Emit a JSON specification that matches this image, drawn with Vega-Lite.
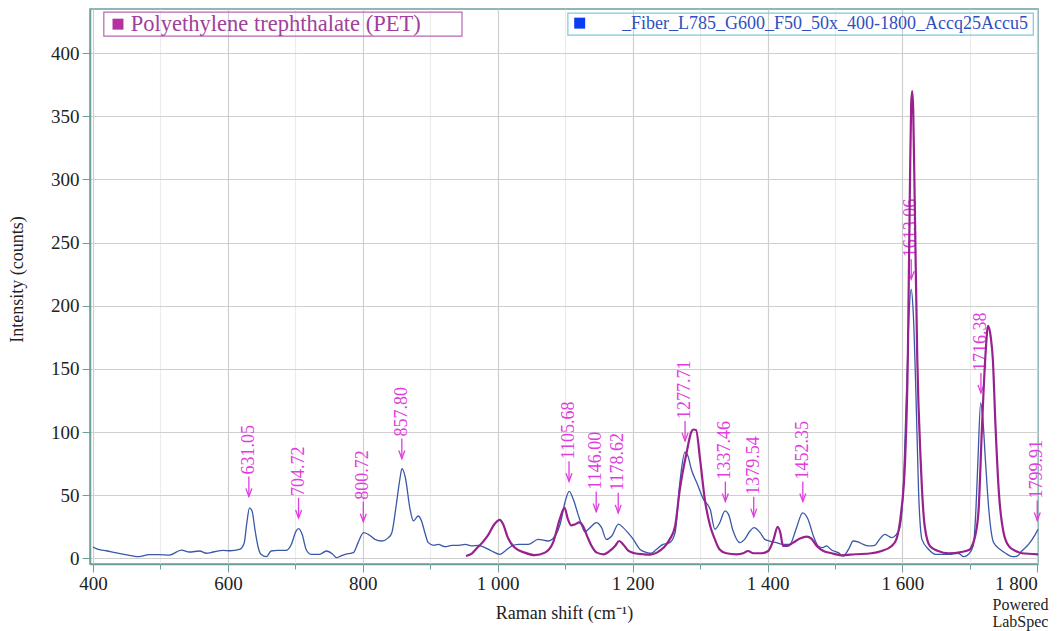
{
  "$schema": "https://vega.github.io/schema/vega-lite/v6.json",
  "width": 948,
  "height": 555,
  "autosize": {"type": "none"},
  "padding": {"left": 90, "top": 9, "right": 22, "bottom": 67},
  "background": "white",
  "config": {
    "font": "Liberation Serif",
    "view": {"stroke": "#6d9f9c", "strokeWidth": 1.5},
    "axis": {"labelFont": "Liberation Serif", "titleFont": "Liberation Serif"},
    "text": {"font": "Liberation Serif"}
  },
  "datasets": {
    "fiber": [
      {"shift":400,"intensity":9},{"shift":408,"intensity":7},{"shift":420,"intensity":6},{"shift":433,"intensity":4.5},{"shift":448,"intensity":3},{"shift":468,"intensity":1.3},{"shift":483,"intensity":3},{"shift":498,"intensity":3},{"shift":513,"intensity":2.6},{"shift":531,"intensity":6.5},{"shift":543,"intensity":5},{"shift":558,"intensity":5.8},{"shift":568,"intensity":4},{"shift":578,"intensity":5},{"shift":593,"intensity":6.3},{"shift":603,"intensity":6},{"shift":617,"intensity":7},{"shift":624,"intensity":12},{"shift":628,"intensity":28},{"shift":632,"intensity":40},{"shift":636,"intensity":37},{"shift":640,"intensity":23},{"shift":645,"intensity":8.4},{"shift":649,"intensity":3.2},{"shift":657,"intensity":1.3},{"shift":664,"intensity":5.8},{"shift":674,"intensity":6.3},{"shift":686,"intensity":6.3},{"shift":694,"intensity":11},{"shift":701,"intensity":21.6},{"shift":705,"intensity":23.5},{"shift":710,"intensity":19},{"shift":716,"intensity":7},{"shift":723,"intensity":3.2},{"shift":736,"intensity":3.2},{"shift":746,"intensity":5.8},{"shift":755,"intensity":3.5},{"shift":761,"intensity":0.5},{"shift":767,"intensity":1.8},{"shift":774,"intensity":3.2},{"shift":786,"intensity":4.5},{"shift":793,"intensity":12.4},{"shift":801,"intensity":20.3},{"shift":808,"intensity":19},{"shift":818,"intensity":15},{"shift":828,"intensity":13.7},{"shift":838,"intensity":16.4},{"shift":843,"intensity":20.3},{"shift":850,"intensity":44},{"shift":855,"intensity":63},{"shift":858,"intensity":71},{"shift":863,"intensity":64},{"shift":870,"intensity":39},{"shift":875,"intensity":29.6},{"shift":882,"intensity":33.5},{"shift":887,"intensity":29.6},{"shift":892,"intensity":20.3},{"shift":897,"intensity":12.4},{"shift":905,"intensity":10.3},{"shift":912,"intensity":11},{"shift":922,"intensity":9.2},{"shift":932,"intensity":10.3},{"shift":942,"intensity":10.3},{"shift":952,"intensity":11},{"shift":961,"intensity":9.8},{"shift":971,"intensity":10.3},{"shift":981,"intensity":8.5},{"shift":991,"intensity":5.8},{"shift":1003,"intensity":3.2},{"shift":1011,"intensity":5.8},{"shift":1021,"intensity":9.8},{"shift":1031,"intensity":11},{"shift":1045,"intensity":11},{"shift":1060,"intensity":15},{"shift":1075,"intensity":13.7},{"shift":1085,"intensity":17.7},{"shift":1093,"intensity":28},{"shift":1100,"intensity":45},{"shift":1106,"intensity":53},{"shift":1112,"intensity":46.7},{"shift":1119,"intensity":35},{"shift":1124,"intensity":27},{"shift":1129,"intensity":21},{"shift":1137,"intensity":24.3},{"shift":1146,"intensity":28.3},{"shift":1154,"intensity":24.3},{"shift":1161,"intensity":15},{"shift":1169,"intensity":17.7},{"shift":1179,"intensity":27},{"shift":1186,"intensity":24.3},{"shift":1193,"intensity":20.3},{"shift":1201,"intensity":15},{"shift":1211,"intensity":7},{"shift":1221,"intensity":4.5},{"shift":1228,"intensity":4},{"shift":1235,"intensity":7},{"shift":1245,"intensity":11},{"shift":1255,"intensity":12.4},{"shift":1263,"intensity":20.3},{"shift":1270,"intensity":60},{"shift":1277.5,"intensity":84},{"shift":1282,"intensity":81},{"shift":1287,"intensity":70.5},{"shift":1295,"intensity":60},{"shift":1305,"intensity":46.7},{"shift":1315,"intensity":38.8},{"shift":1322,"intensity":23},{"shift":1329,"intensity":28},{"shift":1337,"intensity":37.5},{"shift":1342,"intensity":35},{"shift":1349,"intensity":21.6},{"shift":1359,"intensity":12.4},{"shift":1366,"intensity":15},{"shift":1374,"intensity":21.6},{"shift":1380,"intensity":24.3},{"shift":1389,"intensity":20.3},{"shift":1396,"intensity":15},{"shift":1403,"intensity":13.7},{"shift":1413,"intensity":12.4},{"shift":1423,"intensity":11},{"shift":1433,"intensity":11},{"shift":1443,"intensity":24.3},{"shift":1452,"intensity":36},{"shift":1460,"intensity":31},{"shift":1468,"intensity":17.7},{"shift":1475,"intensity":9.8},{"shift":1482,"intensity":8.5},{"shift":1487,"intensity":9.8},{"shift":1495,"intensity":6.6},{"shift":1505,"intensity":4.5},{"shift":1512,"intensity":1.8},{"shift":1520,"intensity":7},{"shift":1527,"intensity":13.7},{"shift":1534,"intensity":13},{"shift":1542,"intensity":11},{"shift":1549,"intensity":9.8},{"shift":1559,"intensity":10.3},{"shift":1566,"intensity":15},{"shift":1574,"intensity":19},{"shift":1579,"intensity":17.7},{"shift":1584,"intensity":16.4},{"shift":1590,"intensity":18.2},{"shift":1596,"intensity":24},{"shift":1601,"intensity":52},{"shift":1606,"intensity":131},{"shift":1610,"intensity":195},{"shift":1613,"intensity":213},{"shift":1616,"intensity":195},{"shift":1620,"intensity":131},{"shift":1624,"intensity":52},{"shift":1629,"intensity":15},{"shift":1639,"intensity":7},{"shift":1649,"intensity":3.2},{"shift":1669,"intensity":3.2},{"shift":1683,"intensity":4},{"shift":1691,"intensity":1.3},{"shift":1698,"intensity":3.2},{"shift":1705,"intensity":9.8},{"shift":1709,"intensity":39},{"shift":1712,"intensity":78},{"shift":1716,"intensity":123},{"shift":1719,"intensity":112},{"shift":1723,"intensity":78},{"shift":1728,"intensity":39},{"shift":1735,"intensity":12.7},{"shift":1745,"intensity":7},{"shift":1753,"intensity":4},{"shift":1763,"intensity":1.3},{"shift":1770,"intensity":1.8},{"shift":1777,"intensity":5.8},{"shift":1787,"intensity":11},{"shift":1797,"intensity":19},{"shift":1801,"intensity":23}
    ],
    "pet": [
      {"shift":953,"intensity":1.8},{"shift":962,"intensity":4},{"shift":970,"intensity":8.5},{"shift":978,"intensity":13},{"shift":985,"intensity":17.7},{"shift":995,"intensity":27},{"shift":1003,"intensity":30.4},{"shift":1008,"intensity":27},{"shift":1015,"intensity":16.4},{"shift":1025,"intensity":8.5},{"shift":1040,"intensity":4.5},{"shift":1055,"intensity":2.5},{"shift":1070,"intensity":4.5},{"shift":1082,"intensity":12.4},{"shift":1092,"intensity":31},{"shift":1099,"intensity":40},{"shift":1104,"intensity":31},{"shift":1109,"intensity":26},{"shift":1115,"intensity":27},{"shift":1121,"intensity":28.5},{"shift":1127,"intensity":25},{"shift":1133,"intensity":17},{"shift":1138,"intensity":11},{"shift":1147,"intensity":4.5},{"shift":1157,"intensity":3.2},{"shift":1166,"intensity":5.8},{"shift":1174,"intensity":9.8},{"shift":1180,"intensity":13.7},{"shift":1186,"intensity":11},{"shift":1194,"intensity":5.8},{"shift":1203,"intensity":4},{"shift":1216,"intensity":3.2},{"shift":1226,"intensity":2.9},{"shift":1236,"intensity":4.5},{"shift":1246,"intensity":8.5},{"shift":1255,"intensity":15},{"shift":1263,"intensity":25.6},{"shift":1270,"intensity":54.7},{"shift":1280,"intensity":83.7},{"shift":1287,"intensity":100},{"shift":1290,"intensity":102},{"shift":1294,"intensity":101.6},{"shift":1300,"intensity":78.4},{"shift":1307,"intensity":46.7},{"shift":1315,"intensity":25.6},{"shift":1322,"intensity":15},{"shift":1329,"intensity":7},{"shift":1339,"intensity":4},{"shift":1354,"intensity":3.2},{"shift":1364,"intensity":4},{"shift":1371,"intensity":5.8},{"shift":1379,"intensity":4},{"shift":1391,"intensity":4},{"shift":1401,"intensity":5.8},{"shift":1409,"intensity":15},{"shift":1415,"intensity":25},{"shift":1419,"intensity":20.3},{"shift":1423,"intensity":9.8},{"shift":1429,"intensity":9.8},{"shift":1438,"intensity":12.4},{"shift":1448,"intensity":15.6},{"shift":1458,"intensity":17.2},{"shift":1465,"intensity":15.6},{"shift":1473,"intensity":9.8},{"shift":1483,"intensity":5.8},{"shift":1495,"intensity":4},{"shift":1510,"intensity":2.4},{"shift":1530,"intensity":3.2},{"shift":1554,"intensity":4},{"shift":1569,"intensity":5.8},{"shift":1584,"intensity":9.8},{"shift":1591,"intensity":15},{"shift":1598,"intensity":36},{"shift":1604,"intensity":78},{"shift":1608,"intensity":158},{"shift":1611,"intensity":290},{"shift":1613,"intensity":360},{"shift":1614.5,"intensity":370},{"shift":1616,"intensity":355},{"shift":1618,"intensity":290},{"shift":1622,"intensity":158},{"shift":1627,"intensity":78},{"shift":1633,"intensity":25.6},{"shift":1641,"intensity":9.5},{"shift":1653,"intensity":5.8},{"shift":1668,"intensity":4},{"shift":1687,"intensity":5},{"shift":1700,"intensity":7},{"shift":1704,"intensity":11},{"shift":1708,"intensity":18},{"shift":1713,"intensity":39},{"shift":1718,"intensity":104.6},{"shift":1723,"intensity":160},{"shift":1727,"intensity":184},{"shift":1731,"intensity":175},{"shift":1734,"intensity":158},{"shift":1738,"intensity":104.6},{"shift":1743,"intensity":52},{"shift":1750,"intensity":20.3},{"shift":1758,"intensity":9.5},{"shift":1768,"intensity":5.8},{"shift":1777,"intensity":4},{"shift":1801,"intensity":3.2}
    ],
    "peaks": [
      {"pos":631.05,"tip":49,"label":"631.05"},
      {"pos":704.72,"tip":32,"label":"704.72"},
      {"pos":800.72,"tip":29,"label":"800.72"},
      {"pos":857.80,"tip":79,"label":"857.80"},
      {"pos":1105.68,"tip":61,"label":"1105.68"},
      {"pos":1146.00,"tip":37,"label":"1146.00"},
      {"pos":1178.62,"tip":36,"label":"1178.62"},
      {"pos":1277.71,"tip":93,"label":"1277.71"},
      {"pos":1337.46,"tip":45,"label":"1337.46"},
      {"pos":1379.54,"tip":33,"label":"1379.54"},
      {"pos":1452.35,"tip":45,"label":"1452.35"},
      {"pos":1613.06,"tip":221,"label":"1613.06"},
      {"pos":1716.38,"tip":131,"label":"1716.38"},
      {"pos":1799.91,"tip":30,"label":"1799.91"}
    ],
    "legendBoxes": [
      {"x1":416,"x2":947,"y1":413.5,"y2":432.5,"series":"PET"},
      {"x1":1104,"x2":1794,"y1":414.3,"y2":431.7,"series":"Fiber"}
    ]
  },
  "layer": [
    {
      "data": {"name": "fiber"},
      "mark": {"type": "line", "color": "#3a58a8", "strokeWidth": 1.3, "interpolate": "monotone"},
      "encoding": {
        "x": {
          "field": "shift", "type": "quantitative",
          "scale": {"domain": [395.5, 1801], "nice": false, "zero": false},
          "axis": {
            "title": "Raman shift (cm⁻¹)",
            "values": [400,500,600,700,800,900,1000,1100,1200,1300,1400,1500,1600,1700,1800],
            "labelExpr": "datum.value % 200 === 0 ? replace(format(datum.value, ','), ',', ' ') : ''",
            "labelFlush": true,
            "labelOverlap": false,
            "labelFont": "Liberation Serif",
            "labelFontSize": 19,
            "labelColor": "#222222",
            "labelPadding": 2,
            "grid": true,
            "gridColor": {"condition": {"test": "datum.value % 200 === 0", "value": "#cfcfcf"}, "value": "#ececec"},
            "gridWidth": 1.2,
            "tickSize": {"condition": {"test": "datum.value % 200 === 0", "value": 8}, "value": 5},
            "tickColor": "#6d9f9c",
            "domainColor": "#6d9f9c",
            "domainWidth": 1.5,
            "titleFont": "Liberation Serif",
            "titleFontSize": 18,
            "titleFontWeight": "normal",
            "titleColor": "#222222",
            "titleX": 474,
            "titleY": 40
          }
        },
        "y": {
          "field": "intensity", "type": "quantitative",
          "scale": {"domain": [-4.5, 435], "nice": false, "zero": false},
          "axis": {
            "title": "Intensity (counts)",
            "values": [0,25,50,75,100,125,150,175,200,225,250,275,300,325,350,375,400,425],
            "labelExpr": "datum.value % 50 === 0 ? '' + datum.value : ''",
            "labelOverlap": false,
            "labelFont": "Liberation Serif",
            "labelFontSize": 19,
            "labelColor": "#222222",
            "labelPadding": 3,
            "grid": true,
            "gridColor": {"condition": {"test": "datum.value % 50 === 0", "value": "#cfcfcf"}, "value": "#ececec"},
            "gridWidth": 1.2,
            "tickSize": {"condition": {"test": "datum.value % 50 === 0", "value": 8}, "value": 5},
            "tickColor": "#6d9f9c",
            "domainColor": "#6d9f9c",
            "domainWidth": 1.5,
            "titleFont": "Liberation Serif",
            "titleFontSize": 18,
            "titleFontWeight": "normal",
            "titleColor": "#222222",
            "titleX": -64,
            "titleY": 270
          }
        }
      }
    },
    {
      "data": {"name": "peaks"},
      "mark": {"type": "rule", "color": "#e03ce0", "strokeWidth": 1.3, "y2Offset": -20},
      "encoding": {
        "x": {"field": "pos", "type": "quantitative"},
        "y": {"field": "tip", "type": "quantitative"},
        "y2": {"field": "tip"}
      }
    },
    {
      "data": {"name": "peaks"},
      "mark": {"type": "point", "shape": "M-0.75,-1L0,1L0.75,-1", "filled": false, "strokeWidth": 1.3, "color": "#e03ce0", "opacity": 1, "size": 64, "yOffset": -4},
      "encoding": {
        "x": {"field": "pos", "type": "quantitative"},
        "y": {"field": "tip", "type": "quantitative"}
      }
    },
    {
      "data": {"name": "peaks"},
      "mark": {"type": "text", "angle": 270, "align": "left", "baseline": "middle", "dx": 22, "font": "Liberation Serif", "fontSize": 18, "color": "#e03ce0"},
      "encoding": {
        "x": {"field": "pos", "type": "quantitative"},
        "y": {"field": "tip", "type": "quantitative"},
        "text": {"field": "label"}
      }
    },
    {
      "data": {"name": "pet"},
      "mark": {"type": "line", "color": "#98218e", "strokeWidth": 2.2, "interpolate": "monotone"},
      "encoding": {
        "x": {"field": "shift", "type": "quantitative"},
        "y": {"field": "intensity", "type": "quantitative"}
      }
    },
    {
      "data": {"name": "legendBoxes"},
      "mark": {"type": "rect", "fillOpacity": 0, "strokeWidth": 1.2},
      "encoding": {
        "x": {"field": "x1", "type": "quantitative"},
        "x2": {"field": "x2"},
        "y": {"field": "y1", "type": "quantitative"},
        "y2": {"field": "y2"},
        "stroke": {"field": "series", "type": "nominal", "scale": {"domain": ["PET", "Fiber"], "range": ["#b566b5", "#7cc8e0"]}, "legend": null}
      }
    },
    {
      "data": {"values": [{"x": 437, "y": 423, "series": "PET"}, {"x": 1121.5, "y": 423.8, "series": "Fiber"}]},
      "mark": {"type": "point", "shape": "square", "filled": true, "opacity": 1, "size": 120},
      "encoding": {
        "x": {"field": "x", "type": "quantitative"},
        "y": {"field": "y", "type": "quantitative"},
        "fill": {"field": "series", "type": "nominal", "scale": {"domain": ["PET", "Fiber"], "range": ["#b4329f", "#0a3cf5"]}, "legend": null}
      }
    },
    {
      "data": {"values": [{"x": 456, "y": 423, "name": "Polyethylene trephthalate (PET)", "series": "PET"}]},
      "mark": {"type": "text", "align": "left", "baseline": "middle", "font": "Liberation Serif", "fontSize": 22.5, "color": "#a0409c"},
      "encoding": {
        "x": {"field": "x", "type": "quantitative"},
        "y": {"field": "y", "type": "quantitative"},
        "text": {"field": "name"}
      }
    },
    {
      "data": {"values": [{"x": 1786, "y": 423, "name": "_Fiber_L785_G600_F50_50x_400-1800_Accq25Accu5", "series": "Fiber"}]},
      "mark": {"type": "text", "align": "right", "baseline": "middle", "font": "Liberation Serif", "fontSize": 18, "color": "#3050c0"},
      "encoding": {
        "x": {"field": "x", "type": "quantitative"},
        "y": {"field": "y", "type": "quantitative"},
        "text": {"field": "name"}
      }
    },
    {
      "data": {"values": [{"x": 1775, "y": -31, "note": "Powered\nLabSpec"}]},
      "mark": {"type": "text", "align": "center", "baseline": "top", "font": "Liberation Serif", "fontSize": 16, "color": "#222222", "lineBreak": "\n", "lineHeight": 16.5},
      "encoding": {
        "x": {"field": "x", "type": "quantitative"},
        "y": {"field": "y", "type": "quantitative"},
        "text": {"field": "note"}
      }
    }
  ]
}
